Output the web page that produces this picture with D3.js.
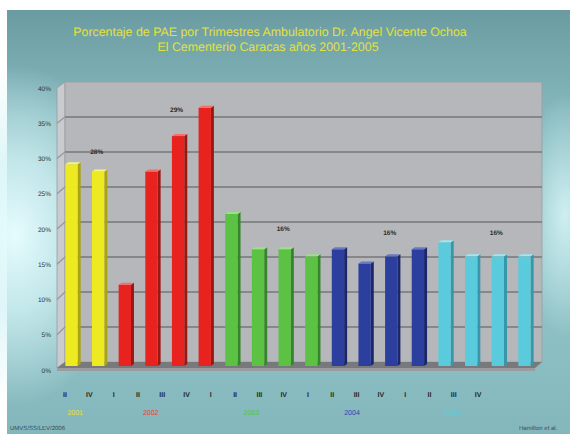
<!DOCTYPE html>
<html>
<head>
<meta charset="utf-8">
<script src="https://cdn.jsdelivr.net/npm/d3@7"></script>
<style>
  html, body { margin: 0; padding: 0; background: #ffffff; }
  svg { display: block; font-family: "Liberation Sans", Arial, sans-serif; }
  svg text { -webkit-font-smoothing: antialiased; text-rendering: geometricPrecision; }
</style>
</head>
<body>
<svg id="chart" width="570" height="434"></svg>
<script>
// Trimester labels along the category axis
const trimesters = ["II", "IV", "I", "II", "III", "IV", "I", "II", "III", "IV",
                    "I", "II", "III", "IV", "I", "II", "III", "IV"];
// Year each bar belongs to
const barYears = [2001, 2001, 2002, 2002, 2002, 2002, 2003, 2003, 2003, 2003,
                  2004, 2004, 2004, 2004, 2005, 2005, 2005, 2005];
// Percentage of PAE per trimester
const pctValues = [28.5, 27.5, 11.5, 27.5, 32.5, 36.5, 21.5, 16.5, 16.5, 15.5,
                   16.5, 14.5, 15.5, 16.5, 17.5, 15.5, 15.5, 15.5];
// Years and the yearly summary shown above each group
const years = [2001, 2002, 2003, 2004, 2005];
const yearSummary = ["28%", "29%", "16%", "16%", "16%"];
// Value axis ticks
const yTicks = [0, 5, 10, 15, 20, 25, 30, 35, 40];

const yearColor = {
  2001: { front: "#eeea22", side: "#aaa414", top: "#f6f47a" },
  2002: { front: "#e8231f", side: "#9c1612", top: "#f2706a" },
  2003: { front: "#5cc244", side: "#35862a", top: "#9ee08a" },
  2004: { front: "#2d3f9e", side: "#1b276a", top: "#6a78c6" },
  2005: { front: "#5acbdc", side: "#3797a8", top: "#a2e6ef" }
};
const yearText = { 2001: "#e6e22c", 2002: "#e8402c", 2003: "#58c046", 2004: "#2e45b0", 2005: "#5ccddc" };

const svg = d3.select("#chart");
const defs = svg.append("defs");

// Background: teal gradient with soft light glows
const bg = defs.append("linearGradient").attr("id", "bg").attr("x1", 0).attr("y1", 0).attr("x2", 0).attr("y2", 1);
bg.append("stop").attr("offset", "0%").attr("stop-color", "#6a9ba1");
bg.append("stop").attr("offset", "25%").attr("stop-color", "#85b9be");
bg.append("stop").attr("offset", "60%").attr("stop-color", "#93c6ca");
bg.append("stop").attr("offset", "100%").attr("stop-color", "#84b7bb");
const glowL = defs.append("radialGradient").attr("id", "glowL").attr("cx", 0.5).attr("cy", 0.5).attr("r", 0.5);
glowL.append("stop").attr("offset", "0%").attr("stop-color", "#e6fcfe").attr("stop-opacity", 1);
glowL.append("stop").attr("offset", "45%").attr("stop-color", "#d4f3f6").attr("stop-opacity", 0.75);
glowL.append("stop").attr("offset", "100%").attr("stop-color", "#d4f3f6").attr("stop-opacity", 0);
const glowR = defs.append("radialGradient").attr("id", "glowR").attr("cx", 0.5).attr("cy", 0.5).attr("r", 0.5);
glowR.append("stop").attr("offset", "0%").attr("stop-color", "#d6f4f6").attr("stop-opacity", 0.9);
glowR.append("stop").attr("offset", "100%").attr("stop-color", "#d6f4f6").attr("stop-opacity", 0);

svg.append("rect").attr("x", 7).attr("y", 10).attr("width", 563).attr("height", 424).attr("fill", "url(#bg)");
svg.append("ellipse").attr("cx", 15).attr("cy", 235).attr("rx", 110).attr("ry", 170).attr("fill", "url(#glowL)");
svg.append("ellipse").attr("cx", 565).attr("cy", 215).attr("rx", 45).attr("ry", 120).attr("fill", "url(#glowR)");

// Title
const title = svg.append("text").attr("text-anchor", "middle").attr("fill", "#e4e040")
  .attr("font-size", 12.4);
title.append("tspan").attr("x", 270).attr("y", 36)
  .text("Porcentaje de PAE por Trimestres Ambulatorio Dr. Angel Vicente Ochoa");
title.append("tspan").attr("x", 268).attr("y", 51)
  .text("El Cementerio Caracas años 2001-2005");

// Scales: front axis for labels, back wall for gridlines, mid depth for bars
const yFront = d3.scaleLinear().domain([0, 40]).range([370, 88]);
const yBack = d3.scaleLinear().domain([0, 40]).range([362, 82]);
const yBar = d3.scaleLinear().domain([0, 40]).range([366, 83]);
const idx = d3.range(trimesters.length);
const xBar = d3.scaleBand().domain(idx).range([58.7, 538.3]).paddingInner(0.5).paddingOuter(0.25);
const xLab = d3.scaleBand().domain(idx).range([52.9, 490.2]);
const xYear = d3.scaleBand().domain(idx).range([50, 503]);

const wallL = 57, wallB = 65, wallR = 542, floorFR = 535;

// Left side wall
svg.append("path")
  .attr("d", `M${wallL},${yFront(40)} L${wallB},${yBack(40)} L${wallB},${yBack(0)} L${wallL},${yFront(0) - 2} Z`)
  .attr("fill", "#c9cbce").attr("stroke", "#9a9c9f").attr("stroke-width", 0.8);
// Back wall
svg.append("rect").attr("x", wallB).attr("y", yBack(40)).attr("width", wallR - wallB)
  .attr("height", yBack(0) - yBack(40)).attr("fill", "#b5b7ba")
  .attr("stroke", "#9c9ea1").attr("stroke-width", 0.8);
// Gridlines on back wall and side wall
svg.append("g").selectAll("line").data(yTicks.filter(t => t > 0 && t < 40)).join("line")
  .attr("x1", wallB).attr("x2", wallR).attr("y1", d => yBack(d)).attr("y2", d => yBack(d))
  .attr("stroke", "#85878b").attr("stroke-width", 1.8);
svg.append("g").selectAll("line").data(yTicks.filter(t => t > 0 && t < 40)).join("line")
  .attr("x1", wallL).attr("x2", wallB).attr("y1", d => yFront(d)).attr("y2", d => yBack(d))
  .attr("stroke", "#95979a").attr("stroke-width", 1.2);
// Floor
svg.append("path")
  .attr("d", `M${wallL},${yFront(0) - 2} L${wallB},${yBack(0)} L${wallR},${yBack(0)} L${floorFR},${yFront(0) - 2} Z`)
  .attr("fill", "#77797c");
svg.append("rect").attr("x", wallL).attr("y", yFront(0) - 2).attr("width", floorFR - wallL).attr("height", 3)
  .attr("fill", "#9a9c9f");

// Bars drawn as simple 3D columns: front face, darker side, lighter cap
const depth = 3;
const bars = svg.append("g").selectAll("g").data(idx).join("g");
bars.append("path")
  .attr("d", i => {
    const x = xBar(i) + xBar.bandwidth() - 1, y = yBar(pctValues[i]), y0 = yBar(0);
    return `M${x},${y} L${x + depth},${y - 2} L${x + depth},${y0 - 2} L${x},${y0} Z`;
  })
  .attr("fill", i => yearColor[barYears[i]].side);
bars.append("rect")
  .attr("x", i => xBar(i)).attr("y", i => yBar(pctValues[i]))
  .attr("width", xBar.bandwidth() - 1).attr("height", i => yBar(0) - yBar(pctValues[i]))
  .attr("fill", i => yearColor[barYears[i]].front);
bars.append("path")
  .attr("d", i => {
    const x = xBar(i), w = xBar.bandwidth() - 1, y = yBar(pctValues[i]);
    return `M${x},${y} L${x + depth},${y - 2} L${x + w + depth},${y - 2} L${x + w},${y} Z`;
  })
  .attr("fill", i => yearColor[barYears[i]].top);

// Value axis labels
svg.append("g").selectAll("text").data(yTicks).join("text")
  .attr("x", 51).attr("y", d => yFront(d) + 2.5).attr("text-anchor", "end")
  .attr("font-size", 6.5).attr("fill", "#2e3436").text(d => d + "%");

// Trimester labels
svg.append("g").selectAll("text").data(idx).join("text")
  .attr("x", i => xLab(i) + xLab.bandwidth() / 2).attr("y", 397)
  .attr("text-anchor", "middle").attr("font-size", 7).attr("font-weight", "bold")
  .attr("fill", "#26292c").text(i => trimesters[i]);

// Year labels centred under each group
svg.append("g").selectAll("text").data(years).join("text")
  .attr("x", y => {
    const ids = idx.filter(i => barYears[i] === y);
    return d3.mean(ids, i => xYear(i) + xYear.bandwidth() / 2);
  })
  .attr("y", 415).attr("text-anchor", "middle").attr("font-size", 7)
  .attr("fill", y => yearText[y]).text(y => y);

// Yearly summary placed over each group (bar index, level on the value scale)
const summaryAnchor = [[1, 29.9], [4, 35.8], [8, 18.8], [12, 18.3], [16, 18.3]];
svg.append("g").selectAll("text").data(years).join("text")
  .attr("x", (y, k) => xBar(summaryAnchor[k][0]) + xBar.bandwidth() / 2 - 2)
  .attr("y", (y, k) => yBack(summaryAnchor[k][1]) + 1)
  .attr("text-anchor", "middle").attr("font-size", 6.5).attr("font-weight", "bold")
  .attr("fill", "#2a2d30").text((y, k) => yearSummary[k]);

// Footer notes
svg.append("text").attr("x", 10).attr("y", 430).attr("font-size", 6)
  .attr("fill", "#3a4a60").text("UMVS/SS/LEV/2006");
svg.append("text").attr("x", 519).attr("y", 430).attr("font-size", 6)
  .attr("fill", "#3a4a60").text("Hamilton et al.");
</script>
</body>
</html>
